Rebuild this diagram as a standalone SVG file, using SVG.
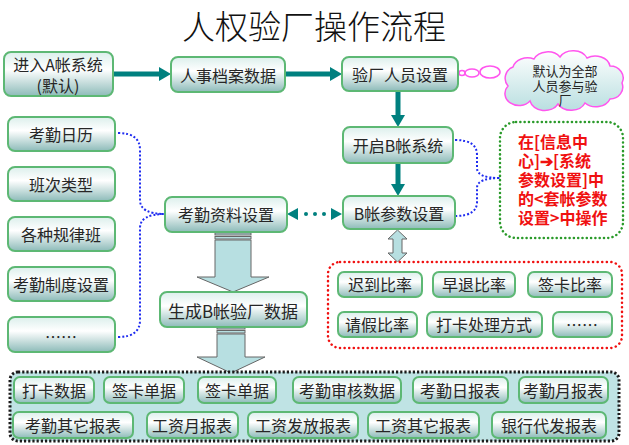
<svg xmlns="http://www.w3.org/2000/svg" width="629" height="445" viewBox="0 0 629 445">
<defs>
<linearGradient id="g" x1="0" y1="0" x2="0" y2="1">
<stop offset="0" stop-color="#dcefec"/>
<stop offset="0.4" stop-color="#ffffff"/>
<stop offset="1" stop-color="#8dbbb9"/>
</linearGradient>
<linearGradient id="cg" x1="0" y1="0" x2="0" y2="1">
<stop offset="0" stop-color="#ffffff"/>
<stop offset="1" stop-color="#b9dfe0"/>
</linearGradient>
<marker id="ah" viewBox="0 0 12 14" refX="0" refY="7" markerWidth="12" markerHeight="14" markerUnits="userSpaceOnUse" orient="auto">
<path d="M0,0 L12,7 L0,14 Z" fill="#00807f"/>
</marker>
</defs>
<style>
.n{fill:url(#g);stroke:#5db874;stroke-width:2}
.t{font-family:"Noto Sans CJK SC","Liberation Sans",sans-serif;font-size:16px;fill:#262626;text-anchor:middle;dominant-baseline:central}
.t.s{font-size:13px}
.red{font-family:"Noto Sans CJK SC","Liberation Sans",sans-serif;font-size:16px;font-weight:bold;fill:#f01010}
.arr{stroke:#00807f;stroke-width:5;fill:none;marker-end:url(#ah)}
.blue{stroke:#1f2cf0;stroke-width:2;fill:none;stroke-dasharray:2 2}
.blk{fill:#b7dfe1;stroke:#666;stroke-width:1}
</style>
<text x="314" y="39" style="font-family:'Noto Sans CJK SC',sans-serif;font-size:33px;font-weight:300;fill:#111;text-anchor:middle">人权验厂操作流程</text>

<g id="connectors">
<line class="arr" x1="113" y1="74" x2="159" y2="74"/>
<line class="arr" x1="285" y1="74" x2="330" y2="74"/>
<line class="arr" x1="398" y1="91" x2="398" y2="115"/>
<line class="arr" x1="398" y1="163" x2="398" y2="184"/>
<path class="blue" d="M118,133 Q140,133 140,150 L140,200 Q140,214 165,214"/>
<path class="blue" d="M118,337 Q140,337 140,320 L140,228 Q140,214 165,214"/>
<path class="blue" d="M455,140 Q477,140 477,155 L477,168 Q477,178 500,178"/>
<path class="blue" d="M455,216 Q477,216 477,202 L477,188 Q477,178 500,178"/>
<path d="M287,214 L298,208 L298,220 Z M342,214 L331,208 L331,220 Z" fill="#00807f"/>
<circle cx="306" cy="214" r="2" fill="#00807f"/>
<circle cx="315" cy="214" r="2" fill="#00807f"/>
<circle cx="324" cy="214" r="2" fill="#00807f"/>
<rect class="blk" x="215" y="233" width="36" height="2"/>
<rect class="blk" x="215" y="236.5" width="36" height="2.5"/>
<path class="blk" d="M215,240 L251,240 L251,277 L269,277 L233,292 L197,277 L215,277 Z"/>
<rect class="blk" x="217" y="327" width="28" height="2"/>
<rect class="blk" x="217" y="330.5" width="28" height="2.5"/>
<path class="blk" d="M217,334 L245,334 L245,357 L265,357 L231,373 L197,357 L217,357 Z"/>
<path class="blk" d="M397.5,230 L407,239 L402,239 L402,253 L407,253 L397.5,262 L388,253 L393,253 L393,239 L388,239 Z"/>
<ellipse cx="462" cy="73" rx="3" ry="2.5" fill="none" stroke="#ff55ee" stroke-width="1.5"/>
<ellipse cx="472" cy="73" rx="7" ry="4" fill="none" stroke="#ff55ee" stroke-width="1.5"/>
<ellipse cx="490" cy="72" rx="10" ry="6" fill="none" stroke="#ff55ee" stroke-width="1.5"/>
</g>

<g id="n-a"><rect class="n" x="4" y="52" width="109" height="44" rx="7"/><text class="t" x="58" y="64">进入A帐系统</text><text class="t" x="58" y="85">(默认)</text></g>
<g id="n-hr"><rect class="n" x="171" y="57" width="114" height="35" rx="7"/><text class="t" x="228" y="75">人事档案数据</text></g>
<g id="n-staff"><rect class="n" x="342" y="57" width="116" height="34" rx="7"/><text class="t" x="400" y="74">验厂人员设置</text></g>
<g id="n-cloud">
<path d="M508,86 A12,12 0 0 1 513,67 A15,12 0 0 1 534,59 A15,12 0 0 1 560,57 A15,12 0 0 1 587,58 A15,12 0 0 1 610,66 A13,12 0 0 1 622,83 A13,12 0 0 1 610,99 A15,12 0 0 1 585,103 A15,12 0 0 1 558,104 A15,12 0 0 1 530,101 A14,12 0 0 1 508,86 Z" fill="url(#cg)" stroke="#ff55ee" stroke-width="1.5"/>
<text class="t s" x="565" y="70">默认为全部</text><text class="t s" x="565" y="85">人员参与验</text><text class="t s" x="565" y="99">厂</text>
</g>
<g id="n-openb"><rect class="n" x="343" y="127" width="110" height="36" rx="7"/><text class="t" x="398" y="145">开启B帐系统</text></g>
<g id="n-bparam"><rect class="n" x="343" y="196" width="112" height="33" rx="7"/><text class="t" x="399" y="213">B帐参数设置</text></g>
<g id="n-note">
<rect x="500" y="122" width="123" height="116" rx="16" fill="#fff" stroke="#2a9a2a" stroke-width="2.5" stroke-dasharray="0.1 4.2" stroke-linecap="round"/>
<text class="red" x="518" y="148">在[信息中</text>
<text class="red" x="518" y="167">心]➔[系统</text>
<text class="red" x="518" y="186">参数设置]中</text>
<text class="red" x="518" y="205">的&lt;套帐参数</text>
<text class="red" x="518" y="224">设置&gt;中操作</text>
</g>
<g id="n-cal"><rect class="n" x="8" y="117" width="107" height="34" rx="7"/><text class="t" x="61" y="134">考勤日历</text></g>
<g id="n-shift"><rect class="n" x="8" y="167" width="107" height="34" rx="7"/><text class="t" x="61" y="184">班次类型</text></g>
<g id="n-rule"><rect class="n" x="8" y="217" width="107" height="34" rx="7"/><text class="t" x="61" y="234">各种规律班</text></g>
<g id="n-sys"><rect class="n" x="8" y="267" width="107" height="34" rx="7"/><text class="t" x="61" y="284">考勤制度设置</text></g>
<g id="n-etc"><rect class="n" x="8" y="317" width="107" height="35" rx="7"/><text class="t" x="61" y="336">……</text></g>
<g id="n-att"><rect class="n" x="165" y="197" width="122" height="35" rx="7"/><text class="t" x="226" y="214">考勤资料设置</text></g>
<g id="n-gen"><rect class="n" x="160" y="292" width="147" height="35" rx="7"/><text class="t" x="233" y="310" style="font-size:17px">生成B帐验厂数据</text></g>

<g id="n-ratios">
<rect x="328" y="262" width="294" height="86" rx="12" fill="#fff" stroke="#f01010" stroke-width="2.5" stroke-dasharray="0.1 4.5" stroke-linecap="round"/>
<g id="r1"><rect class="n" x="338" y="272" width="84" height="25" rx="6"/><text class="t" x="380" y="284">迟到比率</text></g>
<g id="r2"><rect class="n" x="433" y="272" width="82" height="25" rx="6"/><text class="t" x="474" y="284">早退比率</text></g>
<g id="r3"><rect class="n" x="528" y="272" width="84" height="25" rx="6"/><text class="t" x="570" y="284">签卡比率</text></g>
<g id="r4"><rect class="n" x="338" y="312" width="79" height="25" rx="6"/><text class="t" x="377" y="324">请假比率</text></g>
<g id="r5"><rect class="n" x="427" y="312" width="115" height="25" rx="6"/><text class="t" x="484" y="324">打卡处理方式</text></g>
<g id="r6"><rect class="n" x="553" y="312" width="59" height="25" rx="6"/><text class="t" x="582" y="324">……</text></g>
</g>

<g id="n-reports">
<rect x="10" y="372" width="609" height="69" rx="8" fill="#bfe3e4" stroke="#1a1a1a" stroke-width="3" stroke-dasharray="2.2 2"/>
<g id="p1"><rect class="n" x="14" y="377" width="80" height="26" rx="6"/><text class="t" x="54" y="390">打卡数据</text></g>
<g id="p2"><rect class="n" x="104" y="377" width="80" height="26" rx="6"/><text class="t" x="144" y="390">签卡单据</text></g>
<g id="p3"><rect class="n" x="198" y="377" width="78" height="26" rx="6"/><text class="t" x="237" y="390">签卡单据</text></g>
<g id="p4"><rect class="n" x="293" y="377" width="108" height="26" rx="6"/><text class="t" x="347" y="390">考勤审核数据</text></g>
<g id="p5"><rect class="n" x="413" y="377" width="95" height="26" rx="6"/><text class="t" x="460" y="390">考勤日报表</text></g>
<g id="p6"><rect class="n" x="519" y="377" width="89" height="26" rx="6"/><text class="t" x="563" y="390">考勤月报表</text></g>
<g id="p7"><rect class="n" x="13" y="412" width="120" height="26" rx="6"/><text class="t" x="73" y="425">考勤其它报表</text></g>
<g id="p8"><rect class="n" x="147" y="412" width="91" height="26" rx="6"/><text class="t" x="192" y="425">工资月报表</text></g>
<g id="p9"><rect class="n" x="248" y="412" width="110" height="26" rx="6"/><text class="t" x="303" y="425">工资发放报表</text></g>
<g id="p10"><rect class="n" x="368" y="412" width="111" height="26" rx="6"/><text class="t" x="423" y="425">工资其它报表</text></g>
<g id="p11"><rect class="n" x="492" y="412" width="114" height="26" rx="6"/><text class="t" x="549" y="425">银行代发报表</text></g>
</g>
</svg>
